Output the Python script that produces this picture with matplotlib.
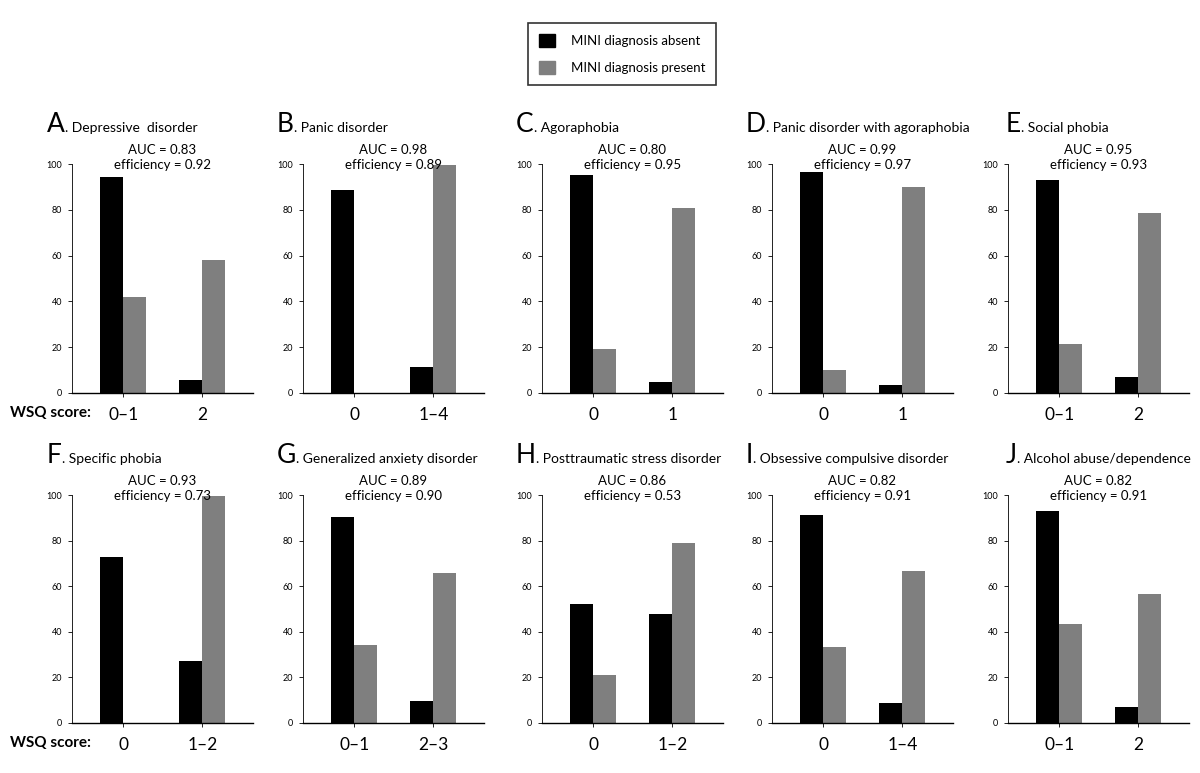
import numpy as np
import matplotlib.pyplot as plt
from matplotlib.patches import Patch

plt.rcParams['font.family'] = ['Lato', 'DejaVu Sans']

# panel letters, titles, stats and WSQ categories
letters = ['A', 'B', 'C', 'D', 'E', 'F', 'G', 'H', 'I', 'J']
titles = ['Depressive  disorder', 'Panic disorder', 'Agoraphobia',
          'Panic disorder with agoraphobia', 'Social phobia',
          'Specific phobia', 'Generalized anxiety disorder',
          'Posttraumatic stress disorder', 'Obsessive compulsive disorder',
          'Alcohol abuse/dependence']
auc = ['0.83', '0.98', '0.80', '0.99', '0.95', '0.93', '0.89', '0.86', '0.82', '0.82']
eff = ['0.92', '0.89', '0.95', '0.97', '0.93', '0.73', '0.90', '0.53', '0.91', '0.91']
cats = [['0\u20131', '2'], ['0', '1\u20134'], ['0', '1'], ['0', '1'], ['0\u20131', '2'],
        ['0', '1\u20132'], ['0\u20131', '2\u20133'], ['0', '1\u20132'], ['0', '1\u20134'], ['0\u20131', '2']]

# % per WSQ category, MINI diagnosis absent / present
absent = [[94.3, 5.7], [88.7, 11.3], [95.2, 4.8], [96.5, 3.5], [93.2, 6.8],
          [72.6, 27.4], [90.4, 9.6], [52.3, 47.7], [91.2, 8.8], [92.8, 7.2]]
present = [[41.8, 58.2], [0, 99.6], [19.0, 81.0], [10.0, 90.0], [21.2, 78.8],
           [0, 99.6], [34.3, 65.7], [21.2, 78.8], [33.4, 66.6], [43.6, 56.4]]

W, H = 1200, 773
fig = plt.figure(figsize=(12, 7.73), dpi=100)

ax_left = [72, 303, 542, 772, 1008]
ax_w = 181
row_top = [164, 495]
row_bot = [393, 723]
letter_x = [47, 277, 516, 746, 1006]
letter_base = [132, 463]

renderer = fig.canvas.get_renderer()
bw = 0.29
x = np.arange(2)

for i in range(10):
    r, c = divmod(i, 5)
    ax = fig.add_axes([ax_left[c] / W, 1 - row_bot[r] / H, ax_w / W,
                       (row_bot[r] - row_top[r]) / H])
    ax.bar(x - bw / 2, absent[i], bw, color='black')
    ax.bar(x + bw / 2, present[i], bw, color='#7f7f7f')
    ax.set_xlim(-0.65, 1.64)
    ax.set_ylim(0, 100)
    ax.set_yticks([0, 20, 40, 60, 80, 100])
    ax.tick_params(axis='y', labelsize=6.5, length=3, width=0.6, pad=4)
    ax.set_xticks(x)
    ax.set_xticklabels(cats[i])
    ax.tick_params(axis='x', labelsize=12.5, length=3, width=0.6, pad=7)
    for s in ['top', 'right']:
        ax.spines[s].set_visible(False)
    ax.spines['left'].set_linewidth(0.6)
    ax.spines['bottom'].set_linewidth(1.0)
    ax.text(0.5, 1.028, 'AUC = ' + auc[i] + '\nefficiency = ' + eff[i],
            transform=ax.transAxes, ha='center', va='center', fontsize=9.5,
            linespacing=1.25)

    t = fig.text(letter_x[c] / W, 1 - letter_base[r] / H, letters[i],
                 fontsize=19, va='baseline', ha='left')
    bb = t.get_window_extent(renderer)
    fig.text(bb.x1 / W, 1 - letter_base[r] / H, '. ' + titles[i],
             fontsize=10, va='baseline', ha='left')

for yy in [413, 743]:
    fig.text(10 / W, 1 - yy / H, 'WSQ score:', fontsize=11, fontweight='bold',
             va='center', ha='left')

handles = [Patch(facecolor='black', edgecolor='black', label='MINI diagnosis absent'),
           Patch(facecolor='#7f7f7f', edgecolor='#7f7f7f', label='MINI diagnosis present')]
leg = fig.legend(handles=handles, loc='center', bbox_to_anchor=(622 / W, 1 - 54 / H),
                 fontsize=9.5, frameon=True, fancybox=False, handlelength=1.2,
                 handleheight=1.2, handletextpad=1.2, labelspacing=1.0,
                 borderpad=0.8)
leg.get_frame().set_edgecolor('black')
leg.get_frame().set_linewidth(1.2)

plt.savefig('out.png', dpi=100)
